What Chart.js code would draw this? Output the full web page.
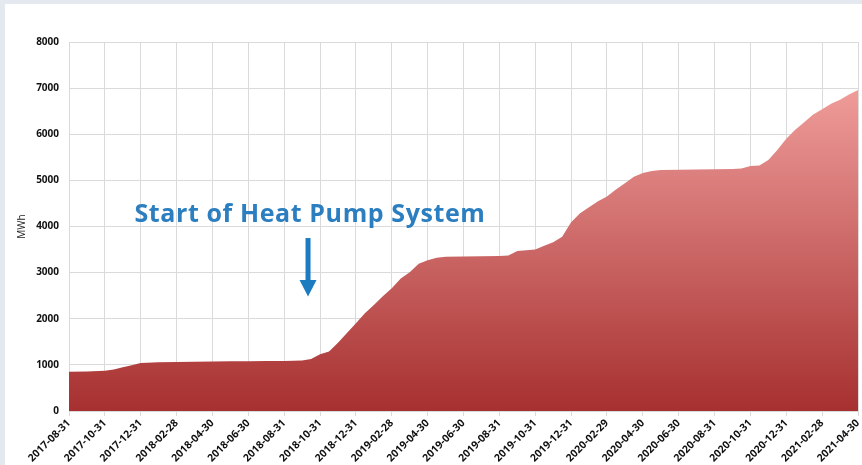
<!DOCTYPE html>
<html>

<head>
  <title>Cumulative Heat Pump Energy</title>
  <script src="https://cdn.jsdelivr.net/npm/chart.js@4.4.0/dist/chart.umd.min.js"></script>
  <style>
    body {
      margin: 0;
      padding: 0;
      background-color: #e3e9ef;
      font-family: "Open Sans", sans-serif;
    }

    .chart-box {
      position: absolute;
      left: 5px;
      top: 4px;
      width: 857px;
      height: 461px;
      background-color: #fff;
    }
  </style>
</head>

<body>
  <div class="chart-box">
    <canvas id="energyChart"></canvas>
  </div>

  <script>
    // tick labels, one every two months (x position = months since 2017-08-31)
    const tickLabels = [
      '2017-08-31', '2017-10-31', '2017-12-31', '2018-02-28', '2018-04-30', '2018-06-30',
      '2018-08-31', '2018-10-31', '2018-12-31', '2019-02-28', '2019-04-30', '2019-06-30',
      '2019-08-31', '2019-10-31', '2019-12-31', '2020-02-29', '2020-04-30', '2020-06-30',
      '2020-08-31', '2020-10-31', '2020-12-31', '2021-02-28', '2021-04-30'
    ];

    // months since 2017-08-31, and cumulative energy (MWh)
    const monthPos = [
      0, 1, 2, 2.5, 3, 3.5, 4, 5, 6, 7, 8, 9, 10, 11, 12, 13, 13.5,
      14, 14.5, 15, 15.5, 16, 16.5, 17, 17.5, 18, 18.5, 19, 19.5, 20, 20.5, 21,
      22, 23, 24, 24.5, 25, 26, 26.5, 27, 27.5, 28, 28.5, 29, 29.5, 30, 30.5,
      31, 31.5, 32, 32.5, 33, 34, 35, 36, 37, 37.5, 38, 38.5, 39, 39.5,
      40, 40.5, 41, 41.5, 42, 42.5, 43, 43.5, 44
    ];
    const energyMWh = [
      850, 855, 870, 900, 950, 990, 1040, 1055, 1065, 1070, 1075, 1080, 1080, 1082, 1085, 1095, 1130,
      1230, 1290, 1480, 1690, 1900, 2120, 2300, 2490, 2660, 2870, 3010, 3190, 3270, 3320, 3345,
      3350, 3355, 3360, 3370, 3470, 3500, 3580, 3660, 3780, 4090, 4286, 4420, 4550, 4650, 4800,
      4940, 5080, 5160, 5205, 5225, 5230, 5235, 5240, 5245, 5260, 5310, 5320, 5440, 5660,
      5900, 6100, 6260, 6430, 6540, 6660, 6750, 6860, 6960
    ];

    const annotationText = 'Start of Heat Pump System';

    const points = monthPos.map((m, i) => ({ x: m, y: energyMWh[i] }));

    // vertical red gradient for the area
    const areaFill = (context) => {
      const chart = context.chart;
      const area = chart.chartArea;
      if (!area) return '#b03a3a';
      const g = chart.ctx.createLinearGradient(0, area.top, 0, area.bottom);
      g.addColorStop(0, '#f6a7a4');
      g.addColorStop(0.13, '#ef9c99');
      g.addColorStop(0.5, '#d06f6e');
      g.addColorStop(1, '#a6302f');
      return g;
    };

    // arrow + caption marking the start of the heat pump
    const heatPumpNote = {
      id: 'heatPumpNote',
      afterDatasetsDraw(chart) {
        const { ctx, scales } = chart;
        const xs = scales.x, ys = scales.y;
        ctx.save();
        ctx.fillStyle = '#2b7fc1';
        ctx.font = '700 25px "Open Sans"';
        ctx.letterSpacing = '0.6px';
        ctx.textAlign = 'center';
        ctx.textBaseline = 'alphabetic';
        ctx.fillText(annotationText, xs.getPixelForValue(13.44), ys.getPixelForValue(4100));
        ctx.letterSpacing = '0px';

        const ax = xs.getPixelForValue(13.33);
        const top = ys.getPixelForValue(3750);
        const neck = ys.getPixelForValue(2840);
        const tip = ys.getPixelForValue(2480);
        ctx.fillStyle = '#1c7cbf';
        ctx.fillRect(ax - 2.5, top, 5, neck - top + 1);
        ctx.beginPath();
        ctx.moveTo(ax - 8.5, neck);
        ctx.lineTo(ax + 8.5, neck);
        ctx.lineTo(ax, tip);
        ctx.closePath();
        ctx.fill();
        ctx.restore();
      }
    };

    const ctx = document.getElementById('energyChart').getContext('2d');
    const energyChart = new Chart(ctx, {
      type: 'line',
      data: {
        datasets: [{
          label: 'MWh',
          data: points,
          fill: 'origin',
          backgroundColor: areaFill,
          borderWidth: 0,
          pointRadius: 0,
          tension: 0,
        }],
      },
      options: {
        responsive: true,
        maintainAspectRatio: false,
        animation: false,
        layout: {
          padding: { top: 38, right: 4, left: 0, bottom: 0 },
        },
        plugins: {
          legend: { display: false },
          tooltip: { enabled: false },
        },
        scales: {
          x: {
            type: 'linear',
            min: 0,
            max: 44,
            afterFit: (s) => { s.height = 54; s.paddingRight = 0; s.paddingLeft = 0; },
            ticks: {
              stepSize: 2,
              autoSkip: false,
              maxRotation: 45,
              minRotation: 45,
              color: '#111',
              padding: 1,
              font: { family: 'Open Sans', size: 10.5, weight: 'bold' },
              callback: (v) => tickLabels[v / 2],
            },
            grid: { color: '#dadada', tickLength: 5 },
            border: { color: '#dadada' },
          },
          y: {
            min: 0,
            max: 8000,
            afterFit: (s) => { s.width = 64; },
            ticks: {
              stepSize: 1000,
              color: '#111',
              padding: 10,
              font: { family: 'Open Sans', size: 10, weight: 'bold' },
              callback: (v) => String(v),
            },
            title: {
              display: true,
              text: 'MWh',
              color: '#222',
              padding: { top: 11, bottom: 0 },
              font: { family: 'Open Sans', size: 10 },
            },
            grid: { color: '#dadada', drawTicks: false },
            border: { color: '#dadada' },
          },
        },
      },
      plugins: [heatPumpNote],
    });
  </script>
</body>

</html>
